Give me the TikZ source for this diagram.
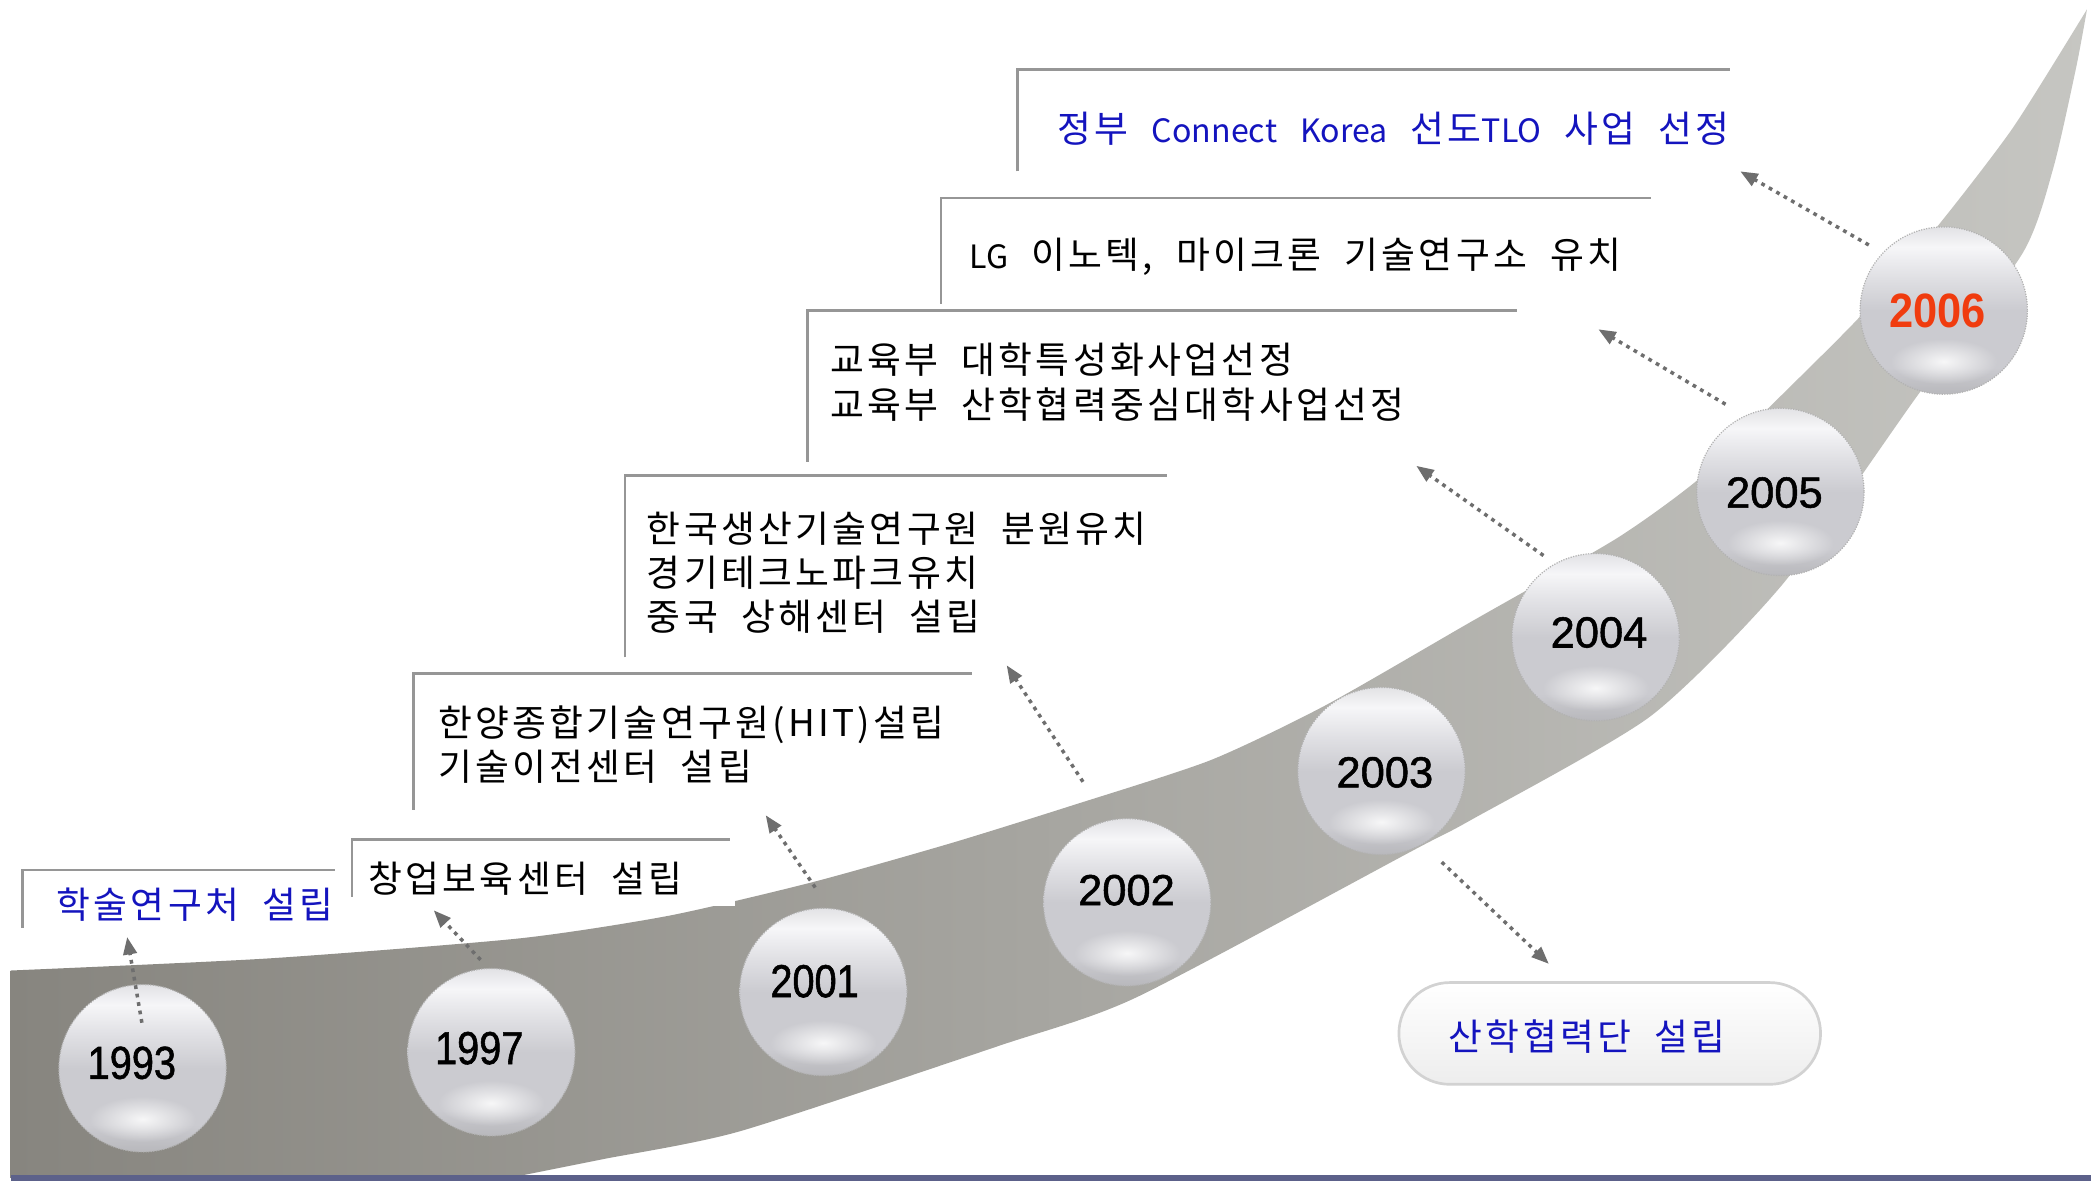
\documentclass[tikz,border=0pt]{standalone}
\usepackage{fontspec}
\newfontfamily\kr{Noto Sans CJK KR}[WordSpace=2, LetterSpace=9]
\newfontfamily\krl{Noto Sans CJK KR}
\newcommand\lat[1]{{\krl\fontsize{24}{33}\selectfont #1}}
\newfontfamily\yr{Liberation Sans}[FakeBold=1.2]
\newfontfamily\yrn{Liberation Sans}[FakeStretch=0.86, FakeBold=1.2]
\newfontfamily\yrb{Liberation Sans}[FakeStretch=0.9]
\usetikzlibrary{arrows.meta,fadings}
\definecolor{bandL}{RGB}{135,133,127}
\definecolor{bandR}{RGB}{198,198,194}
\definecolor{ballE}{RGB}{226,226,229}
\definecolor{ballT}{RGB}{246,246,248}
\definecolor{ballA}{RGB}{224,224,228}
\definecolor{ballB}{RGB}{203,203,208}
\definecolor{ballC}{RGB}{184,184,188}
\definecolor{kblue}{RGB}{20,20,190}
\definecolor{lineg}{RGB}{150,150,150}
\definecolor{arrg}{RGB}{110,110,110}
\definecolor{red06}{RGB}{240,60,15}
\definecolor{barc}{RGB}{92,97,138}
\pgfdeclareverticalshading{ballshade}{100bp}{color(0bp)=(ballC); color(25bp)=(ballC); color(33bp)=(ballB); color(50bp)=(ballB); color(60bp)=(ballA); color(69bp)=(ballT); color(75bp)=(ballE); color(100bp)=(ballE)}
\tikzfading[name=glowfade, inner color=transparent!0, outer color=transparent!100]
\tikzset{
  ball/.pic={
    \shade[shading=ballshade] (0,0) circle (62.5);
    \fill[white, opacity=0.85, path fading=glowfade] (0,38) ellipse (40 and 17);
    \draw[gray!60, line width=0.9pt, densely dotted] (0,0) circle (62.5);
  },
  evt/.style={anchor=west, inner sep=0pt, align=left, font=\kr\fontsize{27.5}{33}\selectfont},
  frame/.style={draw=lineg, line width=2pt},
  conn/.style={draw=arrg, line width=2.6pt, dash pattern=on 2.8pt off 3.6pt, -{Triangle[length=13pt,width=10pt]}},
  yrA/.style={inner sep=0pt, font=\yrn\fontsize{34.5}{34.5}\selectfont},
  yrB/.style={inner sep=0pt, font=\yr\fontsize{32.5}{32.5}\selectfont},
  yrC/.style={inner sep=0pt, text=red06, font=\yrb\bfseries\fontsize{36}{36}\selectfont},
  pill/.style={draw=gray!35, line width=2pt, top color=white, bottom color=gray!14, rounded corners=38pt, minimum width=315pt, minimum height=76pt, inner sep=0pt}
}
\begin{document}
\begin{tikzpicture}[x=1pt,y=-1pt]
\useasboundingbox (0,0) rectangle (1568,882);
\fill[white] (0,0) rectangle (1568,882);

% gray swoosh
\shade[left color=bandL, right color=bandR]
  (8,880) -- plot[smooth, tension=0.4] coordinates {(8,725) (200,716) (388,701) (500,684) (607,659) (710,630) (800,602) (904,568) (990,527) (1098,465) (1208,402) (1270,357) (1320,306) (1389,237) (1449,167) (1504,95) (1559,7)}
  -- plot[smooth, tension=0.4] coordinates {(1559,7) (1551,50) (1534,125) (1511,189) (1432,296) (1332,436) (1233,535) (1098,613) (1058,634) (849,745) (747,781) (553,845) (450,866) (380,880)}
  -- cycle;
% bottom bar
\fill[barc] (8,877.5) rectangle (1562,882);

% text box backgrounds and frames
\fill[white] (17,650) rectangle (250,693);
\fill[white] (263,627) rectangle (549,677);
\fill[white] (309,503) rectangle (726,605);
\fill[white] (467,355) rectangle (872,491);
\fill[white] (603,232) rectangle (1133,345);
\fill[white] (703,148) rectangle (1233,227);
\fill[white] (760,52) rectangle (1292,128);
\draw[frame] (17,693) -- (17,650) -- (250,650);
\draw[frame] (263,670) -- (263,627) -- (545,627);
\draw[frame] (309,605) -- (309,503) -- (726,503);
\draw[frame] (467,491) -- (467,355) -- (872,355);
\draw[frame] (603,345) -- (603,232) -- (1133,232);
\draw[frame] (703,227) -- (703,148) -- (1233,148);
\draw[frame] (760,128) -- (760,52) -- (1292,52);

% event texts
\node[evt, text=kblue] (e1) at (42,676) {학술연구처 설립};
\node[evt] (e2) at (275,656) {창업보육센터 설립};
\node[evt] (e3) at (327,556.5) {한양종합기술연구원(HIT)설립\\기술이전센터 설립};
\node[evt] (e4) at (483,428) {한국생산기술연구원 분원유치\\경기테크노파크유치\\중국 상해센터 설립};
\node[evt] (e5) at (620,285.5) {교육부 대학특성화사업선정\\교육부 산학협력중심대학사업선정};
\node[evt] (e6) at (724,192) {\lat{LG} 이노텍, 마이크론 기술연구소 유치};
\node[evt, text=kblue] (e7) at (790,96) {정부 \lat{Connect} \lat{Korea} 선도\lat{TLO} 사업 선정};

% pill
\node[pill] (pill) at (1202.5,772) {};
\node[evt, text=kblue] (e8) at (1082,774) {산학협력단 설립};

% balls
\pic at (106.5,798) {ball};
\pic at (367,786) {ball};
\pic at (615,741) {ball};
\pic at (842,674) {ball};
\pic at (1032,576) {ball};
\pic at (1192,476) {ball};
\pic at (1330,367.5) {ball};
\pic at (1452,232) {ball};
\node[yrA] (y1993) at (98.5,794) {1993};
\node[yrA] (y1997) at (358,783) {1997};
\node[yrA] (y2001) at (608.5,733) {2001};
\node[yrB] (y2002) at (841.5,665) {2002};
\node[yrB] (y2003) at (1034.5,577) {2003};
\node[yrB] (y2004) at (1194.5,472.5) {2004};
\node[yrB] (y2005) at (1325.5,368) {2005};
\node[yrC] (y2006) at (1447.5,232) {2006};

% connectors
\coordinate (s1) at (106,764); \coordinate (t1) at (95,700);
\coordinate (s2) at (359,717); \coordinate (t2) at (324,680);
\coordinate (s3) at (609,663); \coordinate (t3) at (572,609);
\coordinate (s4) at (809,584); \coordinate (t4) at (752,497);
\coordinate (s5) at (1153,415); \coordinate (t5) at (1058,348);
\coordinate (s6) at (1289,302); \coordinate (t6) at (1194,246);
\coordinate (s7) at (1396,183); \coordinate (t7) at (1300,128);
\coordinate (s8) at (1077,644); \coordinate (t8) at (1157,720);
\draw[conn] (s1) -- (t1);
\draw[conn] (s2) -- (t2);
\draw[conn] (s3) -- (t3);
\draw[conn] (s4) -- (t4);
\draw[conn] (s5) -- (t5);
\draw[conn] (s6) -- (t6);
\draw[conn] (s7) -- (t7);
\draw[conn] (s8) -- (t8);
\end{tikzpicture}
\end{document}
